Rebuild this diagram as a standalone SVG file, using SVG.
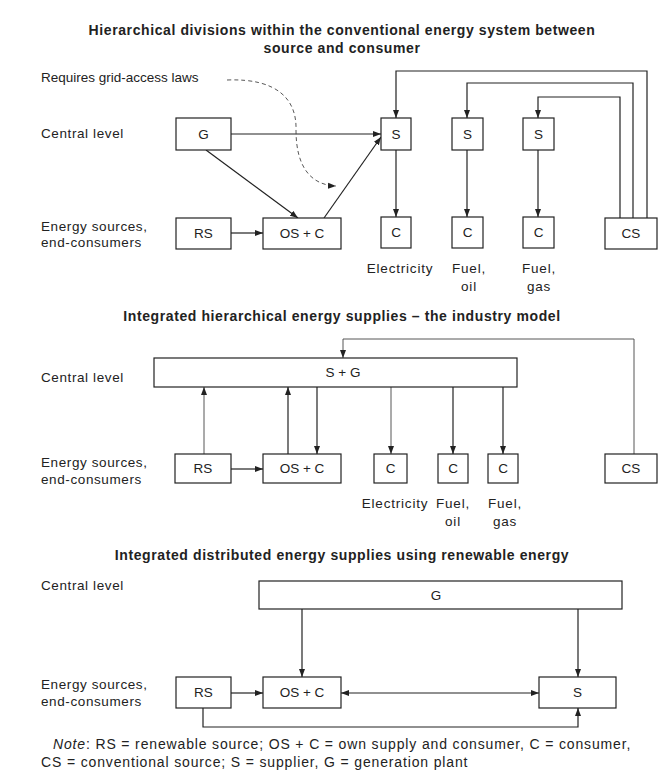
<svg xmlns="http://www.w3.org/2000/svg" width="658" height="780" viewBox="0 0 658 780">
<style>
text{font-family:"Liberation Sans",Arial,sans-serif;fill:#222;}
.t{font-size:14px;font-weight:bold;text-anchor:middle;letter-spacing:0.6px;}
.l{font-size:13.5px;letter-spacing:0.6px;}
.c{font-size:13.5px;text-anchor:middle;}
.w{letter-spacing:0.8px;}
.n{font-size:14px;letter-spacing:0.85px;}
rect{fill:#fff;stroke:#222;stroke-width:1.2;}
.cn path{fill:none;stroke:#222;stroke-width:1.2;}
.cn .thin{stroke-width:0.9;stroke:#444;}
</style>
<defs>
<marker id="a" markerUnits="userSpaceOnUse" markerWidth="9" markerHeight="7" refX="8" refY="3.5" orient="auto-start-reverse"><path d="M0,0.5 L8,3.5 L0,6.5 z" fill="#222"/></marker>
</defs>
<rect x="0" y="0" width="658" height="780" style="fill:#fff;stroke:none"/>
<g id="titles">
<text class="t" x="342" y="35">Hierarchical divisions within the conventional energy system between</text>
<text class="t" x="342" y="53">source and consumer</text>
<text class="t" x="342" y="321">Integrated hierarchical energy supplies – the industry model</text>
<text class="t" x="342" y="560">Integrated distributed energy supplies using renewable energy</text>
</g>
<g id="levels">
<text class="l" x="41" y="82" style="letter-spacing:0">Requires grid-access laws</text>
<text class="l" x="41" y="138">Central level</text>
<text class="l" x="41" y="231">Energy sources,</text>
<text class="l" x="41" y="247">end-consumers</text>
<text class="l" x="41" y="382">Central level</text>
<text class="l" x="41" y="467">Energy sources,</text>
<text class="l" x="41" y="484">end-consumers</text>
<text class="l" x="41" y="590">Central level</text>
<text class="l" x="41" y="689">Energy sources,</text>
<text class="l" x="41" y="706">end-consumers</text>
</g>
<g class="cn" id="connectors">
<path d="M231 134 H381" marker-end="url(#a)"/>
<path d="M206 150 L298 218" marker-end="url(#a)"/>
<path d="M324 218 L381 137" marker-end="url(#a)"/>
<path d="M231 233 H263" marker-end="url(#a)"/>
<path d="M396 150 V217" marker-end="url(#a)"/>
<path d="M467 150 V217" marker-end="url(#a)"/>
<path d="M538 150 V217" marker-end="url(#a)"/>
<path d="M647 218 V71 H396 V118" marker-end="url(#a)"/>
<path d="M633 218 V83 H467 V118" marker-end="url(#a)"/>
<path d="M620 218 V97 H538 V118" marker-end="url(#a)"/>
<path d="M227 80 C 278 78, 297 100, 296 130 C 296 166, 310 185, 336 186" stroke-dasharray="4,3" class="thin" marker-end="url(#a)"/>
<path class="thin" d="M634 454 V339 H343 V358" marker-end="url(#a)"/>
<path class="thin" d="M204 454 V387" marker-end="url(#a)"/>
<path d="M288 454 V387" marker-end="url(#a)"/>
<path d="M317 387 V454" marker-end="url(#a)"/>
<path class="thin" d="M391 387 V454" marker-end="url(#a)"/>
<path d="M453 387 V454" marker-end="url(#a)"/>
<path d="M503 387 V454" marker-end="url(#a)"/>
<path d="M231 469 H263" marker-end="url(#a)"/>
<path d="M302 609 V677" marker-end="url(#a)"/>
<path d="M578 609 V677" marker-end="url(#a)"/>
<path d="M231 693 H263" marker-end="url(#a)"/>
<path d="M341 693 H539" marker-start="url(#a)" marker-end="url(#a)"/>
<path d="M203 708 V727 H578 V708" marker-end="url(#a)"/>
</g>
<g id="top-G"><rect x="176" y="118" width="55" height="32"/><text class="c" x="203.5" y="139">G</text></g>
<g id="top-S1"><rect x="381" y="118" width="30" height="32"/><text class="c" x="396" y="139">S</text></g>
<g id="top-S2"><rect x="452" y="118" width="31" height="32"/><text class="c" x="467.5" y="139">S</text></g>
<g id="top-S3"><rect x="523" y="118" width="31" height="32"/><text class="c" x="538.5" y="139">S</text></g>
<g id="top-RS"><rect x="176" y="218" width="55" height="31"/><text class="c" x="203.5" y="238">RS</text></g>
<g id="top-OSC"><rect x="263" y="218" width="78" height="31"/><text class="c" x="302" y="238">OS + C</text></g>
<g id="top-C1"><rect x="381" y="217" width="30" height="31"/><text class="c" x="396" y="237">C</text></g>
<g id="top-C2"><rect x="452" y="217" width="31" height="31"/><text class="c" x="467.5" y="237">C</text></g>
<g id="top-C3"><rect x="523" y="217" width="31" height="31"/><text class="c" x="538.5" y="237">C</text></g>
<g id="top-CS"><rect x="605" y="218" width="52" height="31"/><text class="c" x="631" y="238">CS</text></g>
<g id="top-labels">
<text class="c w" x="400" y="273">Electricity</text>
<text class="c w" x="469" y="273">Fuel,</text>
<text class="c w" x="469" y="291">oil</text>
<text class="c w" x="539" y="273">Fuel,</text>
<text class="c w" x="539" y="291">gas</text>
</g>
<g id="mid-SG"><rect x="154" y="358" width="363" height="29"/><text class="c" x="343" y="377">S + G</text></g>
<g id="mid-RS"><rect x="175" y="454" width="56" height="29"/><text class="c" x="203" y="473">RS</text></g>
<g id="mid-OSC"><rect x="263" y="454" width="78" height="29"/><text class="c" x="302" y="473">OS + C</text></g>
<g id="mid-C1"><rect x="374" y="454" width="33" height="29"/><text class="c" x="390.5" y="473">C</text></g>
<g id="mid-C2"><rect x="438" y="454" width="30" height="29"/><text class="c" x="453" y="473">C</text></g>
<g id="mid-C3"><rect x="488" y="454" width="30" height="29"/><text class="c" x="503" y="473">C</text></g>
<g id="mid-CS"><rect x="605" y="454" width="52" height="29"/><text class="c" x="631" y="473">CS</text></g>
<g id="mid-labels">
<text class="c w" x="395" y="508">Electricity</text>
<text class="c w" x="453" y="508">Fuel,</text>
<text class="c w" x="453" y="526">oil</text>
<text class="c w" x="505" y="508">Fuel,</text>
<text class="c w" x="505" y="526">gas</text>
</g>
<g id="bot-G"><rect x="259" y="581" width="363" height="28"/><text class="c" x="436" y="600">G</text></g>
<g id="bot-RS"><rect x="176" y="677" width="55" height="31"/><text class="c" x="203.5" y="697">RS</text></g>
<g id="bot-OSC"><rect x="263" y="677" width="78" height="31"/><text class="c" x="302" y="697">OS + C</text></g>
<g id="bot-S"><rect x="539" y="677" width="77" height="31"/><text class="c" x="577.5" y="697">S</text></g>
<g id="note">
<text class="n" x="53" y="749"><tspan font-style="italic">Note</tspan>: RS = renewable source; OS + C = own supply and consumer, C = consumer,</text>
<text class="n" x="41" y="767">CS = conventional source; S = supplier, G = generation plant</text>
</g>
</svg>
